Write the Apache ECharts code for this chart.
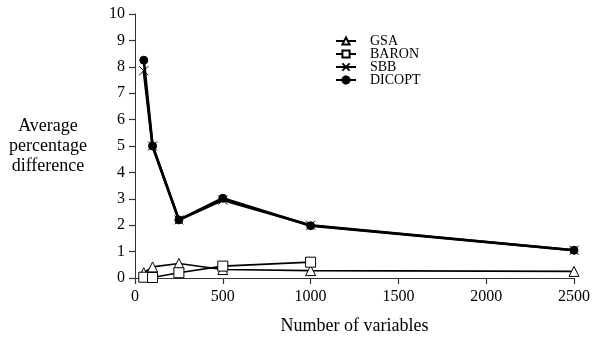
<!DOCTYPE html>
<html>
<head>
<meta charset="utf-8">
<script src="https://cdn.jsdelivr.net/npm/echarts@6/dist/echarts.min.js"></script>
<style>
  html, body { margin: 0; padding: 0; background: #fff; }
  #chart { width: 597px; height: 337px; }
</style>
</head>
<body>
<div id="chart"></div>
<script>
// x positions (number of variables)
const gsaX = [50, 100, 250, 500, 1000, 2500]
const gsaY = [0.2, 0.42, 0.55, 0.32, 0.28, 0.25]
const baronX = [50, 100, 250, 500, 1000]
const baronY = [0.03, 0.02, 0.2, 0.45, 0.6]
const sbbX = [50, 100, 250, 500, 1000, 2500]
const sbbY = [7.85, 5.0, 2.2, 2.95, 2.0, 1.05]
const dicoptX = [50, 100, 250, 500, 1000, 2500]
const dicoptY = [8.25, 5.0, 2.2, 3.02, 1.98, 1.05]

const pairs = (xs, ys) => xs.map((x, i) => [x, ys[i]])
const font = 'Liberation Serif'

const chart = echarts.init(document.getElementById('chart'))

//公共的线条样式
const mk = (name, data, symbol, size, width, fill) => ({
  name: name,
  type: 'line',
  data: data,
  symbol: symbol,
  symbolSize: size,
  showSymbol: true,
  lineStyle: { color: '#000', width: width },
  itemStyle: { color: fill, borderColor: '#000', borderWidth: 1 },
  emphasis: { disabled: true },
  animation: false,
})

chart.setOption({
  backgroundColor: '#fff',
  textStyle: { fontFamily: font },
  grid: { left: 135, right: 23, top: 14, bottom: 59, containLabel: false, outerBoundsMode: 'none' },
  legend: {
    orient: 'vertical',
    left: 330,
    top: 29,
    itemGap: -1,
    itemWidth: 20,
    itemHeight: 9,
    textStyle: { fontFamily: font, fontSize: 14, color: '#000', padding: [0, 0, 0, 9] },
    data: ['GSA', 'BARON', 'SBB', 'DICOPT'],
  },
  xAxis: {
    type: 'value',
    min: 0,
    max: 2500,
    interval: 500,
    name: 'Number of variables',
    nameLocation: 'middle',
    nameGap: 39,
    nameTextStyle: { fontFamily: font, fontSize: 18, color: '#000' },
    axisLine: { show: true, lineStyle: { color: '#333' } },
    axisTick: { show: true, length: 6, lineStyle: { color: '#333', width: 1.2 } },
    axisLabel: { fontFamily: font, fontSize: 16, color: '#000', margin: 11, formatter: v => String(v) },
    splitLine: { show: false },
  },
  yAxis: {
    type: 'value',
    min: 0,
    max: 10,
    interval: 1,
    name: 'Average\npercentage\ndifference',
    nameLocation: 'middle',
    nameRotate: 0,
    nameGap: 87,
    nameTextStyle: { fontFamily: font, fontSize: 18, color: '#000', lineHeight: 20, align: 'center', padding: [10, 0, 0, 0] },
    axisLine: { show: true, lineStyle: { color: '#333' } },
    axisTick: { show: true, length: 6, lineStyle: { color: '#333', width: 1.2 } },
    axisLabel: { fontFamily: font, fontSize: 16, color: '#000', margin: 10 },
    splitLine: { show: false },
  },
  series: [
    mk('GSA', pairs(gsaX, gsaY), 'triangle', 10, 1.6, '#fff'),
    mk('BARON', pairs(baronX, baronY), 'rect', 10, 1.6, '#fff'),
    mk('SBB', pairs(sbbX, sbbY), 'path://M0,0L10,10M10,0L0,10', 9, 2.6, '#000'),
    mk('DICOPT', pairs(dicoptX, dicoptY), 'circle', 8, 2.6, '#000'),
  ],
})
</script>
</body>
</html>
